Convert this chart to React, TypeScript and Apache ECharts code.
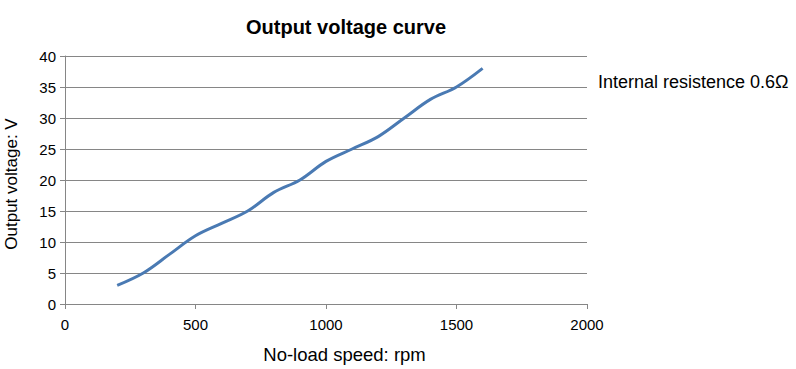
import React, { useEffect, useRef } from "react";
import * as echarts from "echarts";

const speeds = [200, 300, 400, 500, 600, 700, 800, 900, 1000, 1100, 1200, 1300, 1400, 1500, 1600];
const voltages = [3, 5, 8, 11, 13, 15, 18, 20, 23, 25, 27, 30, 33, 35, 38];
const seriesName = "Internal resistence 0.6Ω";

export default function App() {
  const ref = useRef<HTMLDivElement>(null);
  useEffect(() => {
    if (!ref.current) return;
    const chart = echarts.init(ref.current, undefined, { renderer: "svg" });
    const font = "'Liberation Sans', Arial, sans-serif";
    chart.setOption({
      animation: false,
      backgroundColor: "#ffffff",
      title: {
        text: "Output voltage curve",
        left: 241,
        top: 12,
        textStyle: { fontFamily: font, fontSize: 20, fontWeight: "bold", color: "#000" },
      },
      legend: {
        data: [{ name: seriesName, icon: "none" }],
        left: 588,
        top: 68,
        itemWidth: 0,
        itemGap: 0,
        textStyle: { fontFamily: font, fontSize: 18, color: "#000" },
      },
      grid: { left: 65, right: 209, top: 56, bottom: 65, containLabel: false, outerBoundsMode: "none" },
      xAxis: {
        type: "value",
        min: 0,
        max: 2000,
        interval: 500,
        name: "No-load speed: rpm",
        nameLocation: "middle",
        nameGap: 41,
        nameTextStyle: { fontFamily: font, fontSize: 18.5, color: "#000", padding: [0, 0, 0, 37] },
        axisLine: { show: true, lineStyle: { color: "#868686", width: 1 } },
        axisTick: { show: true, length: 5, lineStyle: { color: "#868686" } },
        axisLabel: { fontFamily: font, fontSize: 15, color: "#000", margin: 13, formatter: (v: number) => String(v) },
        splitLine: { show: false },
      },
      yAxis: {
        type: "value",
        min: 0,
        max: 40,
        interval: 5,
        name: "Output voltage: V",
        nameLocation: "middle",
        nameGap: 45,
        nameRotate: 90,
        nameTextStyle: { fontFamily: font, fontSize: 17, color: "#000", padding: [0, 8, 0, 0] },
        axisLine: { show: true, lineStyle: { color: "#868686", width: 1 } },
        axisTick: { show: true, length: 5, lineStyle: { color: "#868686" } },
        axisLabel: { fontFamily: font, fontSize: 15, color: "#000", margin: 9 },
        splitLine: { show: true, lineStyle: { color: "#868686", width: 1 } },
      },
      series: [
        {
          name: seriesName,
          type: "line",
          data: speeds.map((s, i) => [s, voltages[i]]),
          smooth: 0.35,
          showSymbol: false,
          symbol: "none",
          lineStyle: { color: "#4a7ab3", width: 3 },
          itemStyle: { color: "#4a7ab3" },
        },
      ],
    });
    return () => chart.dispose();
  }, []);
  return <div ref={ref} style={{ position: "fixed", left: 0, top: 0, width: 796, height: 369 }} />;
}
